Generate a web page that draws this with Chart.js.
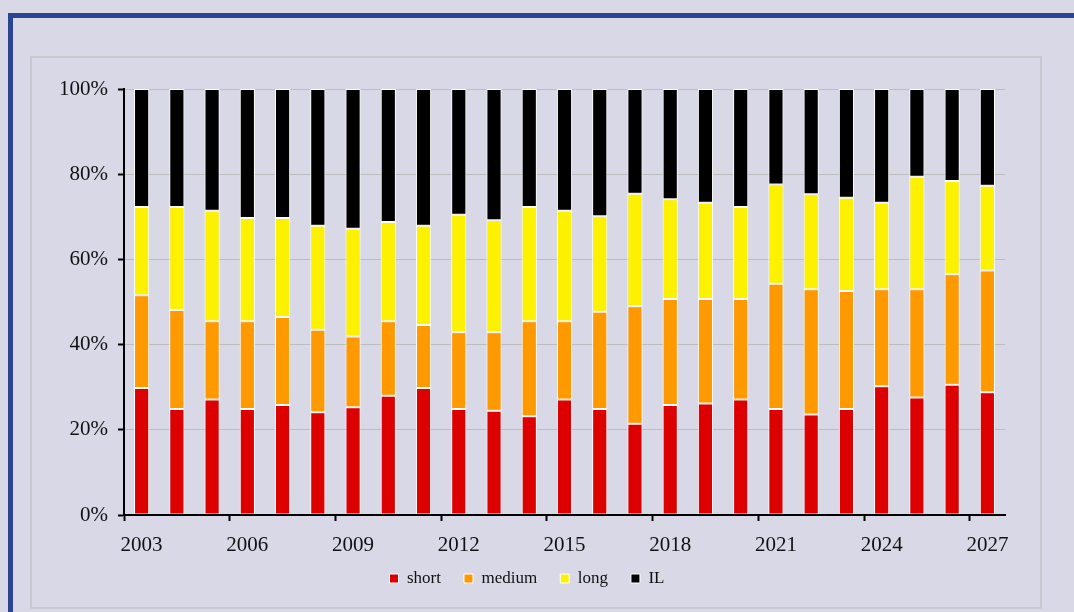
<!DOCTYPE html>
<html>
<head>
<meta charset="utf-8">
<script src="https://cdn.jsdelivr.net/npm/chart.js@4/dist/chart.umd.min.js"></script>
<style>
  html, body { margin: 0; padding: 0; background: #D8D8E7; }
  canvas { display: block; }
</style>
</head>
<body>
<canvas id="shareChart" width="1074" height="612"></canvas>
<script>
const years = ['2003', '2004', '2005', '2006', '2007', '2008', '2009', '2010', '2011', '2012',
  '2013', '2014', '2015', '2016', '2017', '2018', '2019', '2020', '2021', '2022',
  '2023', '2024', '2025', '2026', '2027'];

// shares in % of total
const shortShare = [29.8, 24.9, 27.1, 24.9, 25.8, 24.1, 25.3, 28.0, 29.8, 24.9,
  24.5, 23.2, 27.1, 24.9, 21.4, 25.8, 26.2, 27.1, 24.9, 23.6,
  24.9, 30.2, 27.6, 30.6, 28.8];
const mediumShare = [21.8, 23.2, 18.4, 20.6, 20.7, 19.4, 16.6, 17.5, 14.8, 18.0,
  18.4, 22.3, 18.4, 22.8, 27.6, 24.9, 24.5, 23.6, 29.4, 29.4,
  27.7, 22.8, 25.4, 25.9, 28.6];
const longShare = [20.7, 24.2, 25.9, 24.2, 23.2, 24.4, 25.3, 23.3, 23.3, 27.6,
  26.3, 26.8, 25.9, 22.4, 26.4, 23.4, 22.6, 21.6, 23.3, 22.3,
  21.9, 20.3, 26.4, 21.9, 19.9];
const ilShare = [27.7, 27.7, 28.6, 30.3, 30.3, 32.1, 32.8, 31.2, 32.1, 29.5,
  30.8, 27.7, 28.6, 29.9, 24.6, 25.9, 26.7, 27.7, 22.4, 24.7,
  25.5, 26.7, 20.6, 21.6, 22.7];

const yTicks = [0, 20, 40, 60, 80, 100];

const serif = "'Liberation Serif', 'Times New Roman', serif";

const framePlugin = {
    id: 'frame',
    beforeDraw: function (chart) {
        const c = chart.ctx;
        c.save();
        c.fillStyle = '#D8D8E7';
        c.fillRect(0, 0, chart.width, chart.height);
        // blue outer frame
        c.fillStyle = '#2B4590';
        c.fillRect(8, 13, chart.width - 8, 5);
        c.fillRect(8, 13, 5, chart.height - 13);
        // inner grey panel border
        c.strokeStyle = '#C2C2C8';
        c.lineWidth = 1.5;
        c.strokeRect(31, 57, 1010, 551);
        c.restore();
    },
    // pull the legend row up closer to the year labels
    afterLayout: function (chart) {
        if (chart.legend) {
            chart.legend.top -= 15;
            chart.legend.bottom -= 15;
        }
    }
};

function seriesSet(label, data, color) {
    return {
        label: label,
        data: data,
        backgroundColor: color,
        borderColor: '#FFFFFF',
        borderWidth: 1,
        borderSkipped: false,
        barPercentage: 0.43,
        categoryPercentage: 1.0
    };
}

const ctx = document.getElementById('shareChart').getContext('2d');
const shareChart = new Chart(ctx, {
    type: 'bar',
    data: {
        labels: years,
        datasets: [
            seriesSet('short', shortShare, '#DD0000'),
            seriesSet('medium', mediumShare, '#FF9900'),
            seriesSet('long', longShare, '#FCF200'),
            seriesSet('IL', ilShare, '#000000')
        ]
    },
    options: {
        responsive: false,
        animation: false,
        layout: {
            padding: { left: 49, right: 69, top: 89, bottom: 0 }
        },
        plugins: {
            legend: {
                position: 'bottom',
                labels: {
                    boxWidth: 9,
                    boxHeight: 9,
                    padding: 23,
                    color: '#111',
                    font: { family: serif, size: 17 }
                }
            },
            tooltip: { enabled: false }
        },
        scales: {
            x: {
                stacked: true,
                afterFit: function (scale) { scale.height = 47; },
                grid: {
                    drawOnChartArea: false,
                    drawTicks: true,
                    tickLength: 6,
                    tickWidth: 2,
                    tickColor: function (c) { return c.index % 3 === 0 ? '#000' : 'rgba(0,0,0,0)'; }
                },
                border: { display: true, color: '#000', width: 2, z: 1 },
                ticks: {
                    autoSkip: false,
                    maxRotation: 0,
                    padding: 12,
                    color: '#111',
                    font: { family: serif, size: 21 },
                    callback: function (v, i) { return i % 3 === 0 ? years[i] : ''; }
                }
            },
            y: {
                stacked: true,
                min: 0,
                max: 100,
                afterFit: function (scale) { scale.width = 75; },
                afterBuildTicks: function (scale) {
                    scale.ticks = yTicks.map(function (v) { return { value: v }; });
                },
                grid: {
                    color: '#BDBDBD',
                    lineWidth: 1,
                    tickLength: 6,
                    tickWidth: 2,
                    tickColor: '#000'
                },
                border: { display: true, color: '#000', width: 2, z: 1 },
                ticks: {
                    padding: 10,
                    color: '#111',
                    font: { family: serif, size: 21 },
                    callback: function (v) { return v + '%'; }
                }
            }
        }
    },
    plugins: [framePlugin]
});
</script>
</body>
</html>
